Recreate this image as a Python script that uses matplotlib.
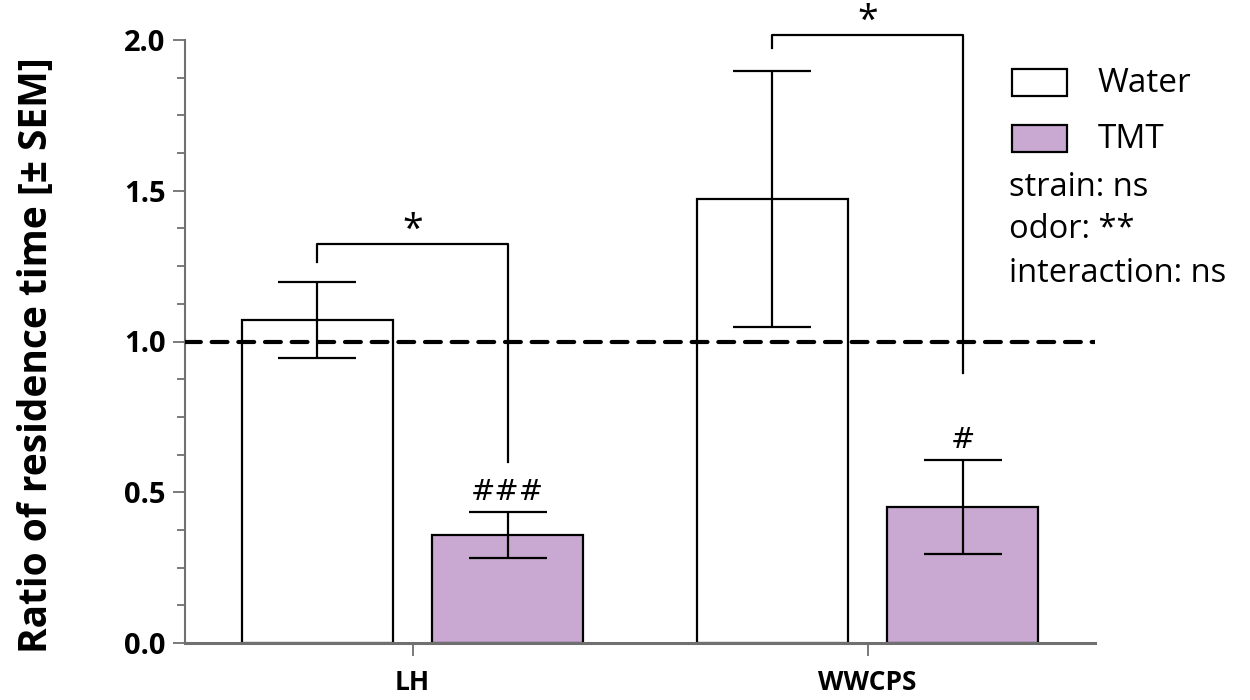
import numpy as np
import matplotlib.pyplot as plt
from matplotlib.patches import Rectangle

plt.rcParams['font.family'] = ['Open Sans', 'DejaVu Sans']

# data
strains = ['LH', 'WWCPS']
odors = ['Water', 'TMT']
water_mean = [1.071, 1.473]
water_sem = [0.126, 0.424]
tmt_mean = [0.358, 0.451]
tmt_sem = [0.075, 0.156]
odor_colors = ['white', '#c9a9d2']
hash_marks = ['###', '#']
stats_text = ['strain: ns', 'odor: **', 'interaction: ns']

W, H = 1250, 700
fig = plt.figure(figsize=(W / 100, H / 100), dpi=100)
ax = fig.add_axes([185 / W, 1 - 643 / H, (1095 - 185) / W, (643 - 40) / H])

x = np.arange(len(strains))
width = 0.332
offset = 0.209
err_kw = dict(ecolor='black', elinewidth=1.6, capsize=28, capthick=1.6)

ax.bar(x - offset, water_mean, width, color=odor_colors[0], edgecolor='black',
       linewidth=1.6, zorder=2)
ax.bar(x + offset, tmt_mean, width, color=odor_colors[1], edgecolor='black',
       linewidth=1.6, zorder=2)
ax.errorbar(x - offset, water_mean, yerr=water_sem, fmt='none', zorder=3, **err_kw)
ax.errorbar(x + offset, tmt_mean, yerr=tmt_sem, fmt='none', zorder=3, **err_kw)

# reference line at ratio 1
ax.axhline(1.0, color='black', lw=3, ls=(0, (3.8, 2.6)), dash_capstyle='round', zorder=4)

# significance brackets
brackets = [(0, 1.264, 1.323, 0.600), (1, 1.973, 2.017, 0.896)]
for i, y0, ytop, y1 in brackets:
    ax.plot([x[i] - offset, x[i] - offset, x[i] + offset, x[i] + offset],
            [y0, ytop, ytop, y1], color='black', lw=1.6, clip_on=False, zorder=5)
    ax.text(x[i], ytop - 0.02, '*', ha='center', va='bottom', fontsize=27,
            clip_on=False)

for i, h in enumerate(hash_marks):
    ax.text(x[i] + offset, tmt_mean[i] + tmt_sem[i] + 0.02, h, ha='center',
            va='bottom', fontsize=21, family='DejaVu Sans')

ax.set_xlim(-0.5, 1.5)
ax.set_ylim(0, 2.0)
ax.set_xticks(x)
ax.set_xticklabels(strains, fontsize=19, fontweight='bold')
ax.set_yticks([0, 0.5, 1.0, 1.5, 2.0])
ax.set_yticklabels(['0.0', '0.5', '1.0', '1.5', '2.0'], fontsize=21, fontweight='bold')
ax.set_yticks(np.arange(0, 2.01, 0.125), minor=True)
ax.tick_params(axis='y', which='major', length=9, width=1.3, color='#707070', pad=5)
ax.tick_params(axis='y', which='minor', length=6, width=1.3, color='#707070')
ax.tick_params(axis='x', length=9, width=1.3, color='#707070', pad=10)
ax.set_ylabel('Ratio of residence time [± SEM]', fontsize=28, fontweight='bold')
ax.yaxis.set_label_coords(-0.142, 0.478)

for s in ['top', 'right']:
    ax.spines[s].set_visible(False)
ax.spines['left'].set_color('#707070')
ax.spines['left'].set_linewidth(1.5)
ax.spines['bottom'].set_color('#707070')
ax.spines['bottom'].set_linewidth(2.2)

# legend drawn by hand
def fxy(px, py):
    return px / W, 1 - py / H

legend_y = [83, 139]
for name, col, yc in zip(odors, odor_colors, legend_y):
    bx, by = fxy(1012, yc + 13)
    fig.add_artist(Rectangle((bx, by), 55 / W, 27 / H, facecolor=col,
                             edgecolor='black', linewidth=1.6,
                             transform=fig.transFigure))
    tx, ty = fxy(1098, yc)
    fig.text(tx, ty, name, fontsize=24, va='center', ha='left')

for txt, yc in zip(stats_text, [188, 229, 273]):
    tx, ty = fxy(1009, yc)
    fig.text(tx, ty, txt, fontsize=23.5, va='center', ha='left')

fig.savefig('out.png', dpi=100)
